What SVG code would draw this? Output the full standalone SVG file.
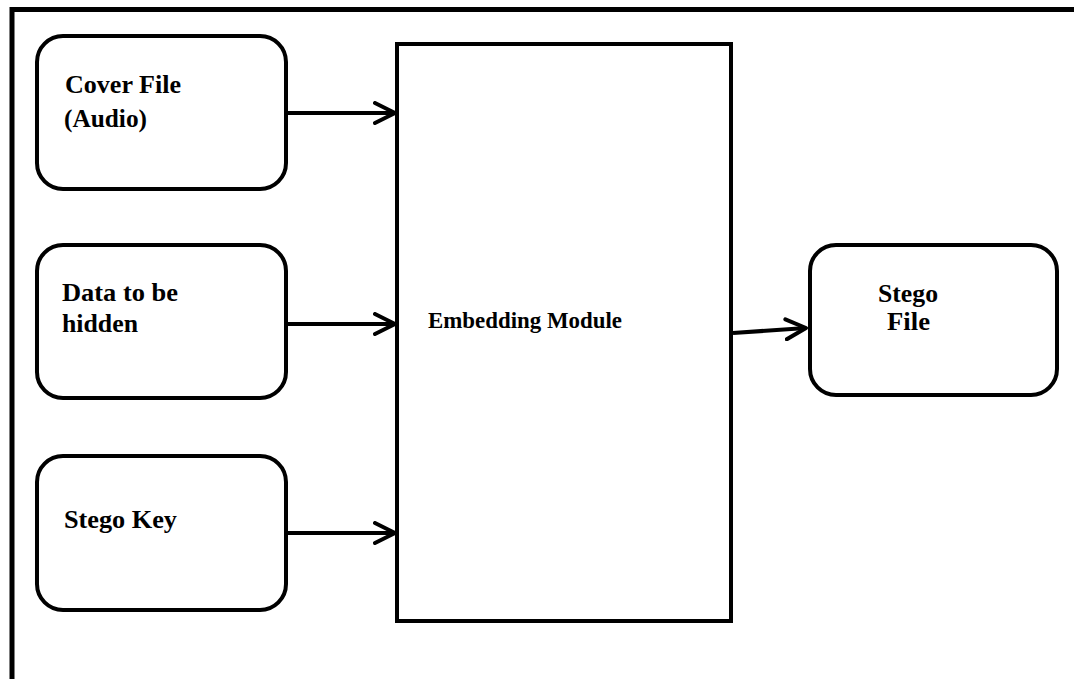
<svg xmlns="http://www.w3.org/2000/svg" width="1074" height="679" viewBox="0 0 1074 679">
<defs>
<style>
.box{fill:#fff;stroke:#000;stroke-width:4}
.frame{fill:none;stroke:#000;stroke-width:5}
.lbl{font-family:"Liberation Serif","Times New Roman",serif;font-weight:bold;font-size:25px;fill:#000}
.conn{stroke:#000;stroke-width:4;fill:none;marker-end:url(#arr)}
</style>
<marker id="arr" viewBox="0 0 12 12" refX="11" refY="6" markerWidth="6" markerHeight="6" markerUnits="strokeWidth" orient="auto">
<path d="M1,1 L11,6 L1,11" fill="none" stroke="#000" stroke-width="2" stroke-linecap="round" stroke-linejoin="round"/>
</marker>
</defs>
<rect width="1074" height="679" fill="#fff"/>
<path class="frame" d="M12,679 L12,9.5 L1074,9.5"/>
<g id="cover">
<rect class="box" x="37" y="36" width="249" height="153" rx="26"/>
<text class="lbl" x="65" y="93" textLength="116" lengthAdjust="spacingAndGlyphs">Cover File</text>
<text class="lbl" x="64" y="127" textLength="83" lengthAdjust="spacingAndGlyphs">(Audio)</text>
</g>
<g id="data">
<rect class="box" x="37" y="245" width="249" height="153" rx="26"/>
<text class="lbl" x="62" y="301" textLength="116" lengthAdjust="spacingAndGlyphs">Data to be</text>
<text class="lbl" x="62" y="332" textLength="76" lengthAdjust="spacingAndGlyphs">hidden</text>
</g>
<g id="key">
<rect class="box" x="37" y="456" width="249" height="154" rx="26"/>
<text class="lbl" x="64" y="528" textLength="113" lengthAdjust="spacingAndGlyphs">Stego Key</text>
</g>
<g id="embed">
<rect class="box" x="397" y="44" width="334" height="577" stroke-width="4.5"/>
<text class="lbl" x="428" y="328" style="font-size:23px" textLength="194" lengthAdjust="spacingAndGlyphs">Embedding Module</text>
</g>
<g id="stego">
<rect class="box" x="810" y="245" width="247" height="150" rx="26"/>
<text class="lbl" x="878" y="302" textLength="60" lengthAdjust="spacingAndGlyphs">Stego</text>
<text class="lbl" x="887" y="330" textLength="43" lengthAdjust="spacingAndGlyphs">File</text>
</g>
<g id="connectors">
<path class="conn" d="M286,113 L395,113"/>
<path class="conn" d="M286,324 L395,324"/>
<path class="conn" d="M286,533 L395,533"/>
<path class="conn" d="M733,333 L806,328"/>
</g>
</svg>
